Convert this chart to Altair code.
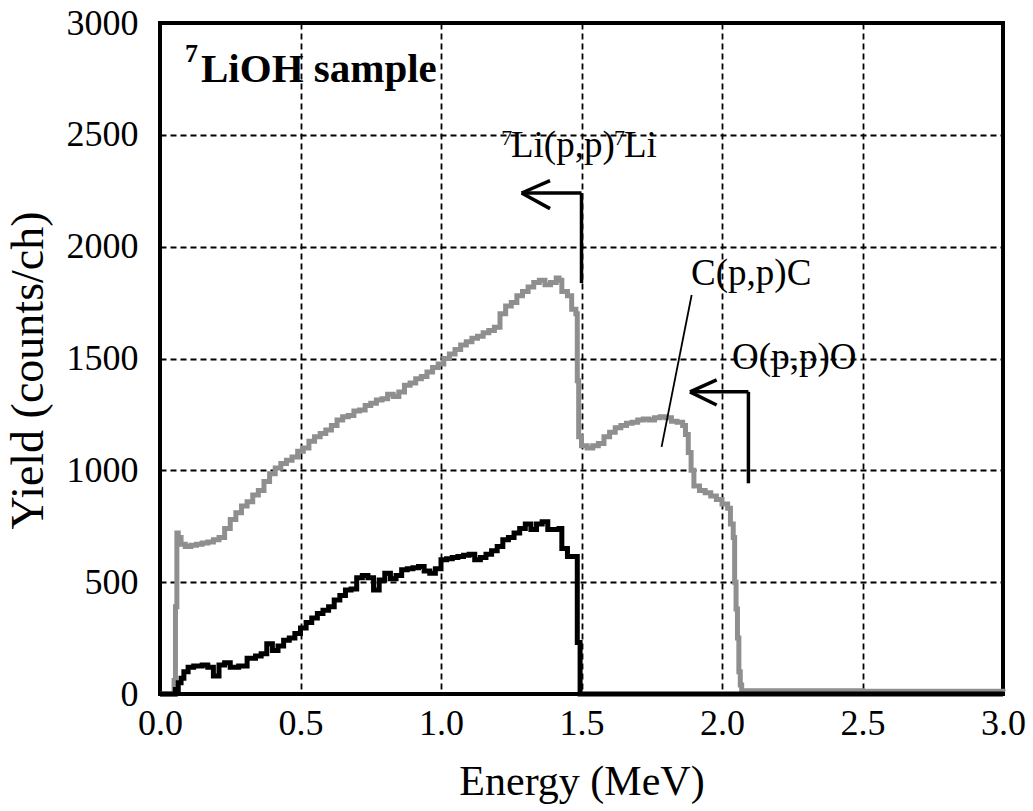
import altair as alt
import pandas as pd

# ---- spectrum data (Energy MeV, Yield counts/ch), step-after ----
gray_E = [0.0, 0.050, 0.055, 0.060, 0.065, 0.075, 0.09, 0.11, 0.13, 0.15, 0.17, 0.19, 0.21, 0.23, 0.25,
          0.27, 0.29, 0.31, 0.33, 0.35, 0.37, 0.39, 0.41, 0.43, 0.45, 0.47, 0.49, 0.51, 0.53, 0.55,
          0.57, 0.59, 0.61, 0.63, 0.65, 0.67, 0.69, 0.71, 0.73, 0.75, 0.77, 0.79, 0.81, 0.83, 0.85,
          0.87, 0.89, 0.91, 0.93, 0.95, 0.97, 0.99, 1.01, 1.03, 1.05, 1.07, 1.09, 1.11, 1.13, 1.15,
          1.17, 1.19, 1.21, 1.23, 1.25, 1.27, 1.29, 1.31, 1.33, 1.35, 1.37, 1.39, 1.41, 1.42, 1.43,
          1.45, 1.465, 1.48, 1.485, 1.49, 1.50, 1.52, 1.54, 1.56, 1.58, 1.60, 1.62, 1.64, 1.66, 1.68,
          1.70, 1.72, 1.74, 1.76, 1.78, 1.80, 1.82, 1.84, 1.86, 1.87, 1.88, 1.89, 1.90, 1.92, 1.94,
          1.96, 1.98, 2.00, 2.02, 2.03, 2.04, 2.045, 2.05, 2.055, 2.06, 2.065, 2.07, 2.5, 3.0]
gray_Y = [0, 60, 390, 720, 700, 670, 660, 665, 670, 675, 680, 690, 700, 740, 780,
          810, 840, 860, 890, 910, 950, 985, 1010, 1030, 1045, 1060, 1085, 1100, 1130, 1150,
          1165, 1180, 1200, 1225, 1240, 1245, 1265, 1270, 1290, 1300, 1315, 1320, 1340, 1330, 1350,
          1380, 1390, 1410, 1420, 1440, 1460, 1475, 1500, 1520, 1540, 1560, 1575, 1590, 1600, 1615,
          1625, 1640, 1700, 1735, 1750, 1780, 1800, 1820, 1840, 1850, 1830, 1840, 1860, 1850, 1800,
          1780, 1720, 1700, 1400, 1150, 1110, 1100, 1110, 1120, 1150, 1170, 1190, 1200, 1210, 1215,
          1225, 1230, 1225, 1235, 1240, 1235, 1220, 1215, 1200, 1160, 1080, 1000, 930, 910, 900,
          885, 870, 850, 830, 760, 700, 500, 380, 250, 100, 40, 15, 12, 10]

black_E = [0.0, 0.055, 0.065, 0.075, 0.085, 0.10, 0.12, 0.15, 0.17, 0.19, 0.21, 0.23, 0.25, 0.28, 0.31,
           0.34, 0.36, 0.38, 0.40, 0.42, 0.44, 0.46, 0.48, 0.50, 0.52, 0.54, 0.56, 0.58, 0.60, 0.62,
           0.64, 0.66, 0.68, 0.70, 0.72, 0.74, 0.76, 0.78, 0.80, 0.82, 0.84, 0.86, 0.88, 0.90, 0.92,
           0.94, 0.96, 0.98, 1.00, 1.02, 1.04, 1.06, 1.08, 1.10, 1.12, 1.14, 1.16, 1.18, 1.20, 1.22,
           1.24, 1.26, 1.28, 1.30, 1.32, 1.34, 1.36, 1.38, 1.40, 1.42, 1.43, 1.45, 1.47, 1.485, 1.495,
           2.0, 3.0]
black_Y = [0, 20, 50, 70, 100, 120, 125, 130, 120, 80, 130, 140, 120, 125, 160,
           170, 180, 225, 195, 215, 240, 250, 270, 295, 320, 340, 360, 375, 390, 420,
           440, 465, 470, 520, 530, 520, 465, 510, 540, 515, 530, 555, 560, 565, 570,
           550, 540, 560, 600, 605, 610, 615, 620, 625, 600, 610, 625, 640, 660, 690,
           700, 720, 740, 760, 735, 760, 770, 735, 735, 740, 650, 615, 615, 230, 0,
           0, 0]

# ---- axis ticks ----
x_ticks = [0.0, 0.5, 1.0, 1.5, 2.0, 2.5, 3.0]
y_ticks = [0, 500, 1000, 1500, 2000, 2500, 3000]

# ---- annotations (data coordinates) ----
big_texts = ["Li(p,p)", "Li", "C(p,p)C", "O(p,p)O"]
big_x = [1.249, 1.651, 1.890, 2.036]
big_y = [2401, 2401, 1829, 1453]
sup_texts = ["7", "7"]
sup_x = [1.214, 1.616]
sup_y = [2455, 2455]
title_text = ["LiOH sample"]
title_x = [0.146]
title_y = [2736]
title_sup = ["7"]
title_sup_x = [0.089]
title_sup_y = [2826]

# arrows / leader lines: segments (x, y, x2, y2)
arrow_x = [1.5, 1.5, 1.287, 1.287, 2.094, 2.094, 1.886, 1.886]
arrow_y = [1837, 2240, 2240, 2240, 942, 1351, 1351, 1351]
arrow_x2 = [1.5, 1.287, 1.388, 1.388, 2.094, 1.886, 1.981, 1.981]
arrow_y2 = [2240, 2240, 2295, 2170, 1351, 1351, 1404, 1292]
leader_x = [1.892]
leader_y = [1784]
leader_x2 = [1.785]
leader_y2 = [1105]

FONT = "Times New Roman, Liberation Serif, serif"

gray_df = pd.DataFrame({"E": gray_E, "Y": gray_Y})
black_df = pd.DataFrame({"E": black_E, "Y": black_Y})

xs = alt.Scale(domain=[0, 3], nice=False, zero=False)
ys = alt.Scale(domain=[0, 3000], nice=False)

base_x = alt.X("E:Q", scale=xs,
               axis=alt.Axis(title="Energy (MeV)", values=x_ticks, format=".1f",
                             labelPadding=12, labelFlush=False, titleFontSize=42,
                             titlePadding=20))
base_y = alt.Y("Y:Q", scale=ys,
               axis=alt.Axis(title="Yield (counts/ch)", values=y_ticks, format="d",
                             labelPadding=22, labelFlush=False, titleFontSize=46,
                             titleAngle=270, titleAlign="center",
                             titleBaseline="middle", titleX=-132, titleY=347))

gray_line = alt.Chart(gray_df).mark_line(interpolate="step-after", color="#8f8f8f",
                                         strokeWidth=5).encode(x=base_x, y=base_y)
black_line = alt.Chart(black_df).mark_line(interpolate="step-after", color="black",
                                           strokeWidth=5).encode(x="E:Q", y="Y:Q")

arrows_df = pd.DataFrame({"x": arrow_x, "y": arrow_y, "x2": arrow_x2, "y2": arrow_y2})
arrows = alt.Chart(arrows_df).mark_rule(color="black", strokeWidth=3.5).encode(
    x=alt.X("x:Q", scale=xs), y=alt.Y("y:Q", scale=ys), x2="x2:Q", y2="y2:Q")
leader_df = pd.DataFrame({"x": leader_x, "y": leader_y, "x2": leader_x2, "y2": leader_y2})
leader = alt.Chart(leader_df).mark_rule(color="black", strokeWidth=1.8).encode(
    x=alt.X("x:Q", scale=xs), y=alt.Y("y:Q", scale=ys), x2="x2:Q", y2="y2:Q")


def text_layer(texts, xv, yv, size, weight="normal"):
    df = pd.DataFrame({"t": texts, "x": xv, "y": yv})
    return alt.Chart(df).mark_text(font=FONT, fontSize=size, fontWeight=weight, color="black",
                                   align="left", baseline="alphabetic").encode(
        x=alt.X("x:Q", scale=xs), y=alt.Y("y:Q", scale=ys), text="t:N")


labels_big = text_layer(big_texts, big_x, big_y, 37)
labels_sup = text_layer(sup_texts, sup_x, sup_y, 22)
labels_title = text_layer(title_text, title_x, title_y, 41, "bold")
labels_title_sup = text_layer(title_sup, title_sup_x, title_sup_y, 26, "bold")

chart = alt.layer(gray_line, black_line, arrows, leader, labels_big, labels_sup,
                  labels_title, labels_title_sup).properties(
    width=843, height=671,
    autosize=alt.AutoSizeParams(type="none"),
    padding={"left": 160, "top": 23, "right": 30, "bottom": 117},
    background="white",
).configure_view(stroke="black", strokeWidth=4).configure_axis(
    labelFont=FONT, titleFont=FONT, labelFontSize=36, labelColor="black",
    titleColor="black", titleFontWeight="normal",
    grid=True, gridColor="black", gridDash=[6, 4], gridWidth=1.8, gridOpacity=1,
    domain=False, ticks=False)

chart.save("out.html", embed_options={"renderer": "svg", "actions": False})
